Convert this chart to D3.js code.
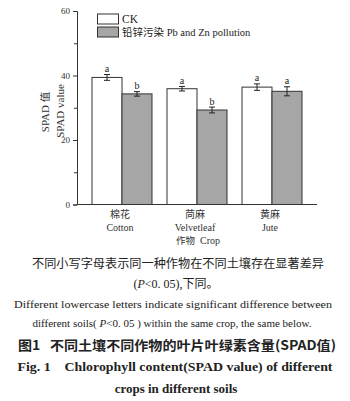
<!DOCTYPE html>
<html><head><meta charset="utf-8">
<script src="https://cdn.jsdelivr.net/npm/d3@7"></script>
<style>body{margin:0;background:#fff}svg{display:block}text{white-space:pre}</style>
</head><body>
<svg id="c" width="350" height="401"></svg>
<script>
const crops = ["棉花|Cotton", "苘麻|Velvetleaf", "黄麻|Jute"];
const seriesNames = ["CK", "铅锌污染 Pb and Zn pollution"];
const ckValues = [39.4, 35.9, 36.4];
const ckErrors = [0.9, 0.7, 1.0];
const pbValues = [34.3, 29.3, 35.1];
const pbErrors = [0.7, 0.9, 1.4];
const ckLetters = ["a", "a", "a"];
const pbLetters = ["b", "b", "a"];
const yTicks = [0, 20, 40, 60];

const serif = "'Liberation Serif','Times New Roman',serif";
const cjk = "'Noto Sans CJK SC',sans-serif";
const svg = d3.select("#c");

const y = d3.scaleLinear().domain([0, 60]).range([204.5, 11]);
const x0 = d3.scaleBand().domain(crops).range([84.5, 309.5]).paddingInner(0.2).paddingOuter(0.1);
const x1 = d3.scaleBand().domain([0, 1]).range([0, x0.bandwidth()]);

const data = [];
crops.forEach((c, i) => {
  data.push({c, s: 0, v: ckValues[i], e: ckErrors[i], l: ckLetters[i]});
  data.push({c, s: 1, v: pbValues[i], e: pbErrors[i], l: pbLetters[i]});
});
const fills = ["#ffffff", "#a6a6a6"];

// bars
svg.append("g").selectAll("rect").data(data).join("rect")
  .attr("x", d => x0(d.c) + x1(d.s))
  .attr("y", d => y(d.v))
  .attr("width", x1.bandwidth())
  .attr("height", d => y(0) - y(d.v))
  .attr("fill", d => fills[d.s])
  .attr("stroke", "#333").attr("stroke-width", 1);

// error bars
const eg = svg.append("g").attr("stroke", "#222").attr("stroke-width", 1);
data.forEach(d => {
  const cx = x0(d.c) + x1(d.s) + x1.bandwidth() / 2;
  eg.append("line").attr("x1", cx).attr("x2", cx).attr("y1", y(d.v + d.e)).attr("y2", y(d.v - d.e));
  eg.append("line").attr("x1", cx - 3).attr("x2", cx + 3).attr("y1", y(d.v + d.e)).attr("y2", y(d.v + d.e));
  eg.append("line").attr("x1", cx - 3).attr("x2", cx + 3).attr("y1", y(d.v - d.e)).attr("y2", y(d.v - d.e));
  svg.append("text").attr("x", cx).attr("y", y(d.v + d.e) - 2.5)
    .attr("text-anchor", "middle").attr("font-family", serif).attr("font-size", 10)
    .attr("fill", "#222").text(d.l);
});

// y axis
const yAxis = d3.axisLeft(y).tickValues(yTicks).tickSize(4).tickPadding(3);
const ya = svg.append("g").attr("transform", "translate(77,0)").call(yAxis);
ya.select(".domain").attr("stroke", "#333");
ya.selectAll(".tick line").attr("stroke", "#333");
ya.selectAll(".tick text").attr("font-family", serif).attr("font-size", 9).attr("fill", "#333");
const yMinor = d3.axisLeft(y).tickValues([10, 30, 50]).tickSize(3).tickFormat("");
const ym = svg.append("g").attr("transform", "translate(77,0)").call(yMinor);
ym.select(".domain").remove();
ym.selectAll(".tick line").attr("stroke", "#333");

// x axis baseline
svg.append("line").attr("x1", 77).attr("x2", 317).attr("y1", y(0)).attr("y2", y(0))
  .attr("stroke", "#333").attr("stroke-width", 1);

// x labels
crops.forEach(c => {
  const [zh, en] = c.split("|");
  const cx = x0(c) + x0.bandwidth() / 2;
  svg.append("text").attr("x", cx - 2).attr("y", 218).attr("text-anchor", "middle")
    .attr("font-family", cjk).attr("font-size", 10).attr("fill", "#333").text(zh);
  svg.append("text").attr("x", cx - 2).attr("y", 230.5).attr("text-anchor", "middle")
    .attr("font-family", serif).attr("font-size", 10).attr("fill", "#333").text(en);
});
const xt = svg.append("text").attr("x", 198).attr("y", 243.5).attr("text-anchor", "middle").attr("fill", "#333");
xt.append("tspan").attr("font-family", cjk).attr("font-size", 9.5).text("作物");
xt.append("tspan").attr("font-family", serif).attr("font-size", 10).text("  Crop");

// y label
const yl = svg.append("g").attr("transform", "translate(49,112) rotate(-90)");
const yl1 = yl.append("text").attr("text-anchor", "middle").attr("fill", "#333");
yl1.append("tspan").attr("font-family", serif).attr("font-size", 11).text("SPAD ");
yl1.append("tspan").attr("font-family", cjk).attr("font-size", 10.5).text("值");
svg.append("text").attr("transform", "translate(64,111) rotate(-90)").attr("text-anchor", "middle")
  .attr("font-family", serif).attr("font-size", 11).attr("fill", "#333").text("SPAD value");

// legend
const lg = svg.append("g");
seriesNames.forEach((n, i) => {
  lg.append("rect").attr("x", 97.5).attr("y", 14 + i * 13).attr("width", 21).attr("height", 10)
    .attr("fill", fills[i]).attr("stroke", "#333");
});
lg.append("text").attr("x", 122).attr("y", 23).attr("font-family", serif).attr("font-size", 11.5)
  .attr("fill", "#222").text(seriesNames[0]);
const l2 = lg.append("text").attr("x", 122).attr("y", 36).attr("fill", "#222");
l2.append("tspan").attr("font-family", cjk).attr("font-size", 10.5).text("铅锌污染");
l2.append("tspan").attr("font-family", serif).attr("font-size", 10.5).text(" Pb and Zn pollution");

// caption
const cap = svg.append("g").attr("fill", "#222");
cap.append("text").attr("x", 178).attr("y", 268).attr("text-anchor", "middle").attr("font-family", cjk)
  .attr("font-size", 12).attr("textLength", 292).attr("lengthAdjust", "spacingAndGlyphs")
  .text("不同小写字母表示同一种作物在不同土壤存在显著差异");
const c2 = cap.append("text").attr("x", 176).attr("y", 288).attr("text-anchor", "middle").attr("font-size", 12);
c2.append("tspan").attr("font-family", serif).text("(");
c2.append("tspan").attr("font-family", serif).attr("font-style", "italic").text("P");
c2.append("tspan").attr("font-family", serif).text("<0. 05),");
c2.append("tspan").attr("font-family", cjk).text("下同。");
cap.append("text").attr("x", 173).attr("y", 308).attr("text-anchor", "middle").attr("font-family", serif)
  .attr("font-size", 11).attr("textLength", 318).attr("lengthAdjust", "spacingAndGlyphs")
  .text("Different lowercase letters indicate significant difference between");
const c4 = cap.append("text").attr("x", 172).attr("y", 327).attr("text-anchor", "middle")
  .attr("font-family", serif).attr("font-size", 11);
c4.append("tspan").text("different soils( ");
c4.append("tspan").attr("font-style", "italic").text("P");
c4.append("tspan").text("<0. 05 ) within the same crop, the same below.");
const c5 = cap.append("text").attr("x", 177).attr("y", 350).attr("text-anchor", "middle")
  .attr("font-size", 13).attr("font-weight", "bold").attr("textLength", 318).attr("lengthAdjust", "spacingAndGlyphs");
c5.append("tspan").attr("font-family", cjk).text("图1   不同土壤不同作物的叶片叶绿素含量(SPAD值)");
cap.append("text").attr("x", 175).attr("y", 371).attr("text-anchor", "middle").attr("font-family", serif)
  .attr("font-size", 13).attr("font-weight", "bold").attr("textLength", 315).attr("lengthAdjust", "spacingAndGlyphs")
  .text("Fig. 1    Chlorophyll content(SPAD value) of different");
cap.append("text").attr("x", 176).attr("y", 393).attr("text-anchor", "middle").attr("font-family", serif)
  .attr("font-size", 13).attr("font-weight", "bold")
  .text("crops in different soils");
</script>
</body></html>
